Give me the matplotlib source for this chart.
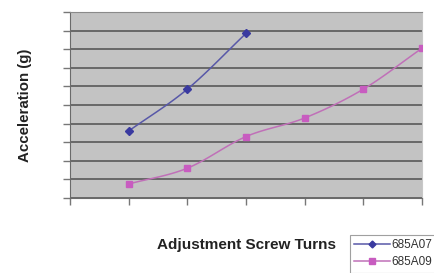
import numpy as np
import matplotlib
matplotlib.use("Agg")
import matplotlib.pyplot as plt

turns_a07 = [1, 2, 3]
accel_a07 = [3.6, 5.85, 8.85]
turns_a09 = [1, 2, 3, 4, 5, 6]
accel_a09 = [0.75, 1.6, 3.3, 4.3, 5.85, 8.05]


def smooth(x, y, n=20):
    # catmull-rom style curve through the points, like excel's smoothed line
    x = np.asarray(x, float)
    y = np.asarray(y, float)
    px = np.concatenate([[2 * x[0] - x[1]], x, [2 * x[-1] - x[-2]]])
    py = np.concatenate([[2 * y[0] - y[1]], y, [2 * y[-1] - y[-2]]])
    xs, ys = [], []
    t = np.linspace(0, 1, n)
    for i in range(1, len(px) - 2):
        for p, out in ((px, xs), (py, ys)):
            p0, p1, p2, p3 = p[i - 1], p[i], p[i + 1], p[i + 2]
            out.extend(0.5 * (2 * p1 + (-p0 + p2) * t
                              + (2 * p0 - 5 * p1 + 4 * p2 - p3) * t ** 2
                              + (-p0 + 3 * p1 - 3 * p2 + p3) * t ** 3))
    return xs, ys


fig = plt.figure(figsize=(4.35, 2.73), dpi=100)
ax = fig.add_axes([0.161, 0.275, 0.809, 0.681])
ax.set_facecolor("#c3c3c3")

blue = "#3a3aa0"
pink = "#c85cc0"

sx, sy = smooth(turns_a07, accel_a07)
ax.plot(sx, sy, color="#5858a8", lw=1.1, zorder=3)
ax.plot(turns_a07, accel_a07, ls="none", marker="D", ms=4, color=blue, zorder=4)
sx, sy = smooth(turns_a09, accel_a09)
ax.plot(sx, sy, color="#c070b8", lw=1.1, zorder=3)
ax.plot(turns_a09, accel_a09, ls="none", marker="s", ms=4.5, color=pink, zorder=4)

# legend handles
ax.plot([], [], color="#5858a8", lw=1.1, marker="D", ms=3.5, mfc=blue, mec=blue, label="685A07")
ax.plot([], [], color="#c070b8", lw=1.1, marker="s", ms=4, mfc=pink, mec=pink, label="685A09")

ax.set_xlim(0, 6)
ax.set_ylim(0, 10)
ax.set_xticks(range(0, 7))
ax.set_yticks(range(0, 11))
ax.set_xticklabels([])
ax.set_yticklabels([])
ax.tick_params(direction="out", length=5, color="#777777", width=1)
ax.yaxis.grid(True, color="#505050", lw=1.1)
ax.set_axisbelow(True)
ax.spines["top"].set_color("#8a8a8a")
ax.spines["right"].set_color("#c8c8c8")
for s in ["left", "bottom"]:
    ax.spines[s].set_color("#6a6a6a")

fig.text(0.057, 0.615, "Acceleration (g)", rotation=90, ha="center", va="center",
         fontsize=10.8, fontweight="bold", color="#222222", family="Liberation Sans")
fig.text(0.566, 0.103, "Adjustment Screw Turns", ha="center", va="center",
         fontsize=11, fontweight="bold", color="#222222", family="Liberation Sans")

leg = fig.legend(handles=ax.get_lines()[-2:], loc="upper left", bbox_to_anchor=(0.805, 0.139),
                 borderaxespad=0, frameon=True, fancybox=False, handlelength=3.0,
                 borderpad=0.35, labelspacing=0.45, handletextpad=0.1,
                 prop={"family": "Liberation Sans", "size": 8.5})
leg.get_frame().set_edgecolor("#888888")
leg.get_frame().set_linewidth(0.8)
for t in leg.get_texts():
    t.set_color("#333333")

fig.savefig("out.png", dpi=100)
